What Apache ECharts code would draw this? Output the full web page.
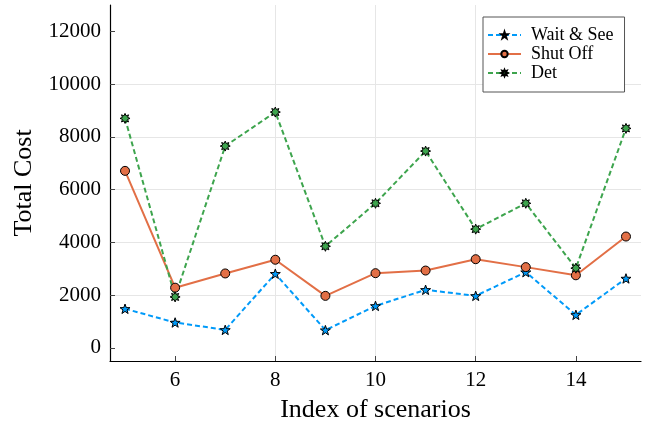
<!DOCTYPE html>
<html>
<head>
<meta charset="utf-8">
<script src="https://cdn.jsdelivr.net/npm/echarts@6/dist/echarts.min.js"></script>
<style>
  html, body { margin: 0; padding: 0; background: #fff; }
  #chart { width: 656px; height: 422px; }
</style>
</head>
<body>
<div id="chart"></div>
<script>
// scenario indices and cost per strategy
const scenarios = [5, 6, 7, 8, 9, 10, 11, 12, 13, 14, 15];
const waitSee = [1480, 960, 680, 2810, 670, 1590, 2200, 1970, 2870, 1250, 2630];
const shutOff = [6710, 2280, 2820, 3340, 1970, 2830, 2930, 3360, 3060, 2750, 4220];
const det = [8700, 1930, 7650, 8940, 3850, 5480, 7460, 4500, 5480, 3020, 8320];

const xTicks = [6, 8, 10, 12, 14];
const yTicks = [0, 2000, 4000, 6000, 8000, 10000, 12000];

const COLORS = { blue: '#009af9', orange: '#e26f46', green: '#3da44d', grid: '#e6e6e6' };
const FONT = "'Liberation Serif', 'DejaVu Serif', serif";

const STAR5 = 'path://M0,-10 L2.35,-3.24 L9.51,-3.09 L3.80,1.24 L5.88,8.09 L0,4 L-5.88,8.09 L-3.80,1.24 L-9.51,-3.09 L-2.35,-3.24 Z';
const STAR8 = 'path://M0,-10 L2.10,-5.08 L7.07,-7.07 L5.08,-2.10 L10,0 L5.08,2.10 L7.07,7.07 L2.10,5.08 L0,10 L-2.10,5.08 L-7.07,7.07 L-5.08,2.10 L-10,0 L-5.08,-2.10 L-7.07,-7.07 L-2.10,-5.08 Z';

function pairs(vals) {
  return scenarios.map((x, i) => [x, vals[i]]);
}

function lineSeries(name, vals, color, dash, symbol, size) {
  return {
    name,
    type: 'line',
    data: pairs(vals),
    symbol,
    symbolSize: size,
    symbolKeepAspect: true,
    showAllSymbol: true,
    lineStyle: { color, width: 2, type: dash ? [5, 3] : 'solid' },
    itemStyle: { color, borderColor: '#000', borderWidth: 1 },
    emphasis: { disabled: true },
    animation: false,
  };
}

const chart = echarts.init(document.getElementById('chart'), null, { renderer: 'canvas' });
chart.setOption({
  backgroundColor: '#fff',
  textStyle: { fontFamily: FONT },
  grid: { left: 110, right: 15, top: 5, bottom: 61, containLabel: false, outerBoundsMode: 'none' },
  legend: {
    left: 483, top: 17,
    orient: 'vertical',
    backgroundColor: '#fff',
    borderColor: '#555',
    borderWidth: 1,
    borderRadius: 0,
    padding: [9, 11, 10, 4],
    itemWidth: 33,
    itemHeight: 8,
    itemGap: 1,
    textStyle: { fontFamily: FONT, fontSize: 18, color: '#000', lineHeight: 18, padding: [0, 0, 0, 5] },
    data: ['Wait & See', 'Shut Off', 'Det'],
  },
  xAxis: {
    type: 'value',
    min: 4.7, max: 15.3,
    name: 'Index of scenarios',
    nameLocation: 'middle',
    nameGap: 36,
    nameTextStyle: { fontFamily: FONT, fontSize: 26, color: '#000' },
    axisLine: { show: true, onZero: false, lineStyle: { color: '#000', width: 1.2 } },
    axisTick: { show: true, inside: true, length: 5, customValues: xTicks, lineStyle: { color: '#444' } },
    axisLabel: { customValues: xTicks, fontFamily: FONT, fontSize: 21, color: '#000', margin: 9,
      formatter: v => String(v) },
    splitLine: { show: true, showMinLine: false, showMaxLine: false, lineStyle: { color: COLORS.grid, width: 1 } },
  },
  yAxis: {
    type: 'value',
    min: -500, max: 13000,
    splitNumber: 7,
    name: 'Total Cost',
    nameLocation: 'middle',
    nameGap: 73,
    nameTextStyle: { fontFamily: FONT, fontSize: 26, color: '#000' },
    axisLine: { show: true, onZero: false, lineStyle: { color: '#000', width: 1.2 } },
    axisTick: { show: true, inside: true, length: 5, customValues: yTicks, lineStyle: { color: '#444' } },
    axisLabel: { customValues: yTicks, fontFamily: FONT, fontSize: 21, color: '#000', margin: 9,
      formatter: v => String(v) },
    splitLine: { show: true, showMinLine: false, showMaxLine: false, lineStyle: { color: COLORS.grid, width: 1 } },
  },
  series: [
    lineSeries('Wait & See', waitSee, COLORS.blue, true, STAR5, 10),
    lineSeries('Shut Off', shutOff, COLORS.orange, false, 'circle', 9),
    lineSeries('Det', det, COLORS.green, true, STAR8, 10),
  ],
});
</script>
</body>
</html>
